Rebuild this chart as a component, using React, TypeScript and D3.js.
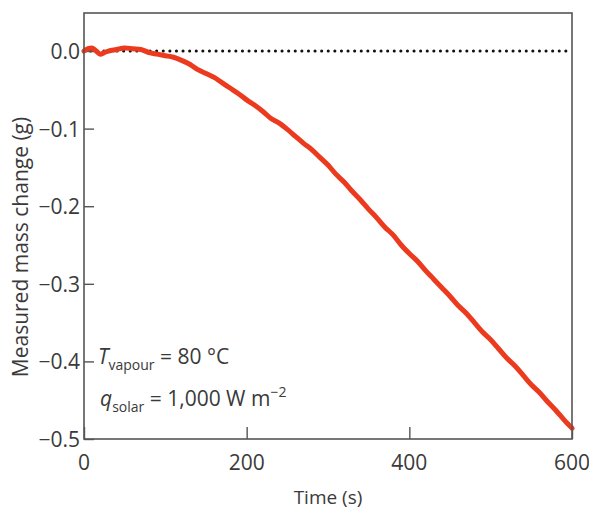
import React, { useEffect, useRef } from "react";
import * as d3 from "d3";

// measured mass change over time
const timeS = [
  0, 5, 10, 15, 20, 25, 30, 40, 50, 60, 70, 80, 90, 100, 110, 120, 130, 140, 150,
  160, 170, 180, 190, 200, 210, 220, 230, 240, 250, 260, 270, 280, 290, 300, 310,
  320, 330, 340, 350, 360, 370, 380, 390, 400, 410, 420, 430, 440, 450, 460, 470,
  480, 490, 500, 510, 520, 530, 540, 550, 560, 570, 580, 590, 600,
];
const massG = [
  0.0, 0.003, 0.004, 0.0, -0.004, -0.002, 0.0, 0.002, 0.004, 0.003, 0.002, -0.002,
  -0.004, -0.006, -0.008, -0.012, -0.017, -0.024, -0.029, -0.034, -0.041, -0.048,
  -0.055, -0.063, -0.07, -0.078, -0.087, -0.093, -0.101, -0.11, -0.119, -0.127,
  -0.137, -0.147, -0.159, -0.169, -0.181, -0.192, -0.204, -0.215, -0.227, -0.237,
  -0.25, -0.261, -0.271, -0.283, -0.294, -0.305, -0.316, -0.328, -0.338, -0.35,
  -0.362, -0.372, -0.384, -0.396, -0.406, -0.418, -0.43, -0.44, -0.452, -0.463,
  -0.475, -0.486,
];

const xTicks = [0, 200, 400, 600];
const yTicks = [0, -0.1, -0.2, -0.3, -0.4, -0.5];

const FONT = "'Open Sans', 'Noto Sans', sans-serif";
const TEXT = "#3a3a3a";

export default function App() {
  const svgRef = useRef<SVGSVGElement>(null);

  useEffect(() => {
    const width = 589;
    const height = 513;
    const margin = { top: 13, right: 17, bottom: 74, left: 84 };

    const svg = d3.select(svgRef.current);
    svg.selectAll("*").remove();

    const x = d3.scaleLinear().domain([0, 600]).range([margin.left, width - margin.right]);
    const y = d3.scaleLinear().domain([-0.5, 0.049]).range([height - margin.bottom, margin.top]);

    // zero reference line (dotted)
    svg.append("line")
      .attr("x1", x(0)).attr("x2", x(600) - 4)
      .attr("y1", y(0)).attr("y2", y(0))
      .attr("stroke", "#111")
      .attr("stroke-width", 3)
      .attr("stroke-linecap", "round")
      .attr("stroke-dasharray", "0.1,6.5");

    // inward ticks
    const xAxis = svg.append("g")
      .attr("transform", `translate(0,${y(-0.5)})`)
      .call(d3.axisBottom(x).tickValues(xTicks).tickSize(-12).tickFormat(() => ""));
    xAxis.select(".domain").remove();
    xAxis.selectAll("line").attr("stroke", "#555").attr("stroke-width", 1.4);

    const yAxis = svg.append("g")
      .attr("transform", `translate(${x(0)},0)`)
      .call(d3.axisLeft(y).tickValues(yTicks).tickSize(-10).tickFormat(() => ""));
    yAxis.select(".domain").remove();
    yAxis.selectAll("line").attr("stroke", "#555").attr("stroke-width", 1.4);

    // tick labels
    svg.append("g").selectAll("text")
      .data(xTicks)
      .join("text")
      .attr("x", (d) => x(d))
      .attr("y", y(-0.5) + 31)
      .attr("text-anchor", "middle")
      .attr("font-family", FONT)
      .attr("font-size", 21)
      .attr("fill", TEXT)
      .text((d) => d3.format("d")(d));

    svg.append("g").selectAll("text")
      .data(yTicks)
      .join("text")
      .attr("x", x(0) - 4)
      .attr("y", (d) => y(d) + 8)
      .attr("text-anchor", "end")
      .attr("font-family", FONT)
      .attr("font-size", 21)
      .attr("fill", TEXT)
      .text((d) => d3.format(".1f")(d).replace("-", "\u2212"));

    // axis titles
    svg.append("text")
      .attr("x", (x(0) + x(600)) / 2)
      .attr("y", 504)
      .attr("text-anchor", "middle")
      .attr("font-family", FONT)
      .attr("font-size", 19)
      .attr("fill", TEXT)
      .text("Time (s)");

    svg.append("text")
      .attr("transform", `translate(28,${(y(0.049) + y(-0.5)) / 2 + 21}) rotate(-90)`)
      .attr("text-anchor", "middle")
      .attr("font-family", FONT)
      .attr("font-size", 21)
      .attr("fill", TEXT)
      .text("Measured mass change (g)");

    // data curve
    const line = d3.line<number>()
      .x((_, i) => x(timeS[i]))
      .y((d) => y(d))
      .curve(d3.curveMonotoneX);

    svg.append("path")
      .datum(massG)
      .attr("fill", "none")
      .attr("stroke", "#ec3a1e")
      .attr("stroke-width", 5)
      .attr("stroke-linejoin", "round")
      .attr("stroke-linecap", "round")
      .attr("d", line);

    // frame
    svg.append("rect")
      .attr("x", x(0))
      .attr("y", y(0.049))
      .attr("width", x(600) - x(0))
      .attr("height", y(-0.5) - y(0.049))
      .attr("fill", "none")
      .attr("stroke", "#555")
      .attr("stroke-width", 1.6);

    // annotation
    const ann = svg.append("g")
      .attr("font-family", FONT)
      .attr("fill", TEXT);

    const t1 = ann.append("text").attr("x", 98).attr("y", 364).attr("font-size", 21);
    t1.append("tspan").attr("font-style", "italic").text("T");
    t1.append("tspan").attr("font-size", 14).attr("dy", 6).text("vapour");
    t1.append("tspan").attr("dy", -6).text(" = 80 \u00b0C");

    const t2 = ann.append("text").attr("x", 100).attr("y", 406).attr("font-size", 21);
    t2.append("tspan").attr("font-style", "italic").text("q");
    t2.append("tspan").attr("font-size", 14).attr("dy", 6).text("solar");
    t2.append("tspan").attr("dy", -6).text(" = 1,000 W m");
    t2.append("tspan").attr("font-size", 14).attr("dy", -9).text("\u22122");
  }, []);

  return (
    <svg
      ref={svgRef}
      width={589}
      height={513}
      style={{ position: "absolute", left: 0, top: 0, background: "#fff" }}
    />
  );
}
